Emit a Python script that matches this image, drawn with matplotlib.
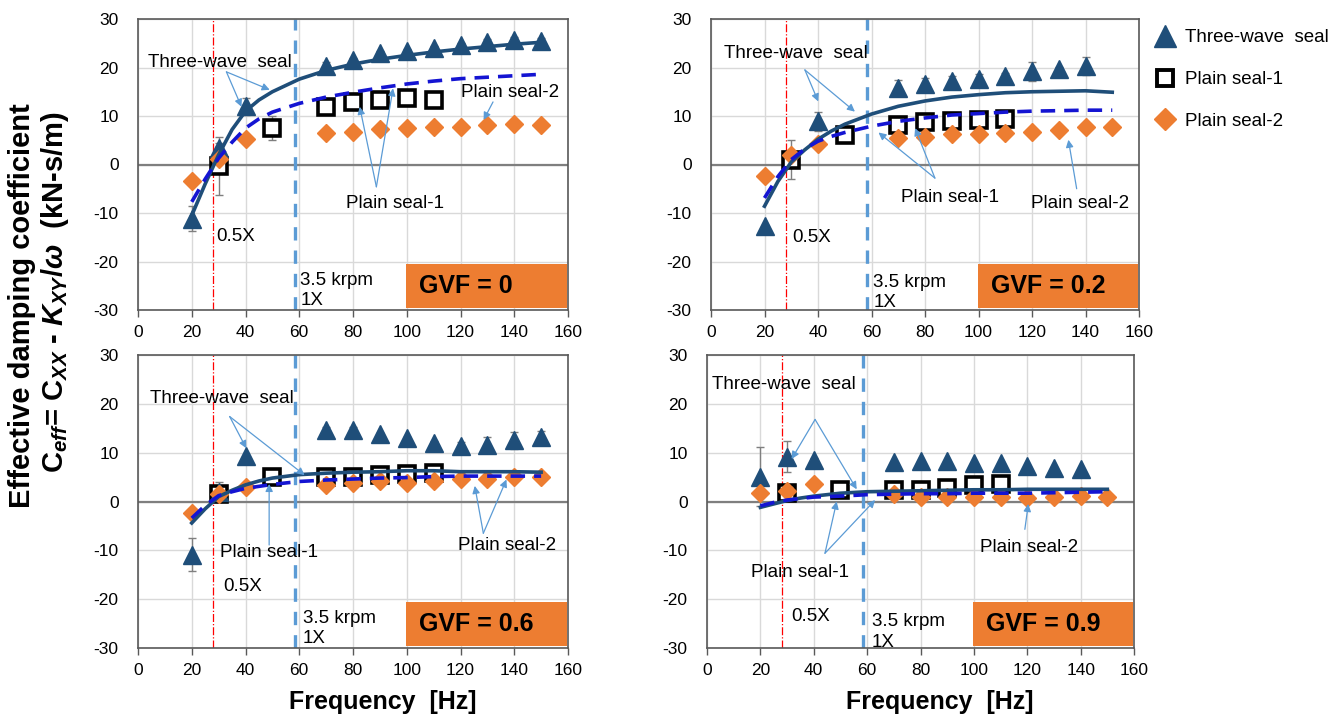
import matplotlib
matplotlib.use("Agg")
import matplotlib.pyplot as plt
from matplotlib.lines import Line2D

plt.rcParams['font.family'] = ['Liberation Sans', 'DejaVu Sans']
plt.rcParams['axes.unicode_minus'] = False
plt.rcParams['mathtext.fontset'] = 'custom'
plt.rcParams['mathtext.rm'] = 'Liberation Sans:bold'
plt.rcParams['mathtext.bf'] = 'Liberation Sans:bold'
plt.rcParams['mathtext.it'] = 'Liberation Sans:italic:bold'
plt.rcParams['mathtext.bfit'] = 'Liberation Sans:italic:bold'

# ---- data ----
gvf_labels = ["GVF = 0", "GVF = 0.2", "GVF = 0.6", "GVF = 0.9"]

# three-wave seal (triangles)
tw_f0 = [20, 30, 40, 70, 80, 90, 100, 110, 120, 130, 140, 150]
tw_0 = [-11.2, 3.4, 12.0, 20.3, 21.5, 22.9, 23.4, 24.0, 24.6, 25.3, 25.7, 25.5]
tw_e0 = [2.6, 1.0, 1.7, 0.8, 0.5, 0.5, 0.5, 0.5, 0.5, 0.5, 0.5, 0.5]
tw_f2 = [20, 40, 70, 80, 90, 100, 110, 120, 130, 140]
tw_2 = [-12.7, 8.9, 15.8, 16.5, 17.3, 17.7, 18.3, 19.2, 19.6, 20.3]
tw_e2 = [0, 2.0, 1.6, 1.3, 1.0, 1.0, 0.6, 2.0, 0.6, 1.8]
tw_f6 = [20, 30, 40, 70, 80, 90, 100, 110, 120, 130, 140, 150]
tw_6 = [-10.9, 2.0, 9.4, 14.7, 14.7, 13.8, 13.0, 11.9, 11.4, 11.6, 12.5, 13.2]
tw_e6 = [3.4, 2.0, 0, 0.5, 0.5, 0.3, 0.3, 0.5, 0.8, 1.7, 1.8, 1.3]
tw_f9 = [20, 30, 40, 70, 80, 90, 100, 110, 120, 130, 140]
tw_9 = [5.1, 9.2, 8.4, 8.0, 8.2, 8.2, 7.8, 7.8, 7.2, 6.8, 6.6]
tw_e9 = [6.0, 3.2, 0.5, 0, 0, 0, 0, 0, 0, 0, 0]

# plain seal-1 (squares)
ps1_f = [30, 50, 70, 80, 90, 100, 110]
ps1_0 = [-0.3, 7.6, 11.9, 12.9, 13.3, 13.7, 13.4]
ps1_e0 = [6.0, 2.5, 1.0, 0.6, 0.6, 0.8, 0.0]
ps1_2 = [1.0, 6.0, 8.2, 8.7, 8.9, 9.1, 9.4]
ps1_e2 = [4.0, 0.5, 1.3, 0.8, 0.8, 1.0, 0.0]
ps1_6 = [1.6, 5.1, 5.0, 5.1, 5.5, 5.7, 5.8]
ps1_e6 = [1.0, 1.0, 1.0, 1.2, 1.0, 1.0, 1.0]
ps1_9 = [1.8, 2.3, 2.3, 2.4, 2.7, 3.3, 3.6]
ps1_e9 = [0.5, 0.3, 0.5, 0.5, 0.8, 1.0, 0.0]

# plain seal-2 (diamonds)
ps2_f = [20, 30, 40, 70, 80, 90, 100, 110, 120, 130, 140, 150]
ps2_0 = [-3.4, 1.2, 5.2, 6.4, 6.8, 7.4, 7.6, 7.7, 7.7, 8.1, 8.3, 8.1]
ps2_2 = [-2.4, 1.9, 4.3, 5.5, 5.6, 6.3, 6.2, 6.5, 6.7, 7.2, 7.8, 7.7]
ps2_6 = [-2.3, 1.6, 2.9, 3.3, 3.8, 4.1, 3.8, 4.1, 4.6, 4.6, 5.1, 5.1]
ps2_9 = [1.7, 2.2, 3.6, 1.6, 1.0, 1.0, 1.0, 0.9, 0.7, 0.9, 1.2, 1.0]

# predictions (solid = three-wave, dashed = plain seal)
fit_f = [20, 25, 30, 35, 40, 45, 50, 60, 70, 80, 90, 100, 110, 120, 130, 140, 150]
tw_fit_0 = [-10.5, -4.0, 2.0, 7.2, 11.0, 13.3, 15.0, 17.6, 19.4, 20.7, 21.7, 22.5, 23.2, 23.8, 24.3, 24.8, 25.2]
ps_fit_0 = [-7.7, -3.0, 1.3, 4.6, 7.5, 9.4, 10.8, 12.6, 13.9, 14.9, 15.8, 16.6, 17.2, 17.7, 18.0, 18.3, 18.6]
tw_fit_2 = [-8.6, -3.5, 0.5, 3.0, 5.2, 6.9, 8.3, 10.4, 12.0, 13.1, 13.9, 14.4, 14.8, 15.0, 15.1, 15.2, 14.9]
ps_fit_2 = [-6.9, -2.5, 1.0, 3.2, 4.8, 5.8, 6.6, 7.9, 8.9, 9.6, 10.2, 10.5, 10.8, 11.0, 11.1, 11.2, 11.2]
tw_fit_6 = [-4.4, -1.5, 1.0, 2.3, 3.4, 4.2, 4.8, 5.5, 5.8, 6.0, 6.1, 6.3, 6.3, 6.1, 6.1, 6.1, 6.0]
ps_fit_6 = [-3.4, -0.8, 1.2, 2.0, 2.7, 3.1, 3.5, 4.1, 4.4, 4.6, 4.8, 4.9, 5.1, 5.2, 5.2, 5.2, 5.2]
tw_fit_9 = [-1.2, -0.5, 0.2, 0.7, 1.1, 1.4, 1.7, 2.0, 2.1, 2.2, 2.3, 2.4, 2.4, 2.5, 2.5, 2.5, 2.5]
ps_fit_9 = [-0.9, -0.2, 0.3, 0.6, 0.9, 1.0, 1.1, 1.4, 1.5, 1.6, 1.6, 1.7, 1.7, 1.7, 1.8, 1.9, 2.0]

half_x = 28      # 0.5X
one_x = 58.3     # 3.5 krpm

# ---- styles ----
C_TW = '#1F4E79'
C_PS2 = '#ED7D31'
C_DASH = '#1414D2'
C_ARROW = '#5B9BD5'
C_GRID = '#D9D9D9'

W, H = 1341, 715
fig = plt.figure(figsize=(W / 100, H / 100), dpi=100)

def px_axes(x0, x1, y0, y1):
    return fig.add_axes([x0 / W, 1 - y1 / H, (x1 - x0) / W, (y1 - y0) / H])

axes = [px_axes(138, 568, 19, 310), px_axes(711, 1139, 19, 310),
        px_axes(138, 568, 355, 648), px_axes(707, 1134, 355, 648)]

series = [
    (tw_f0, tw_0, tw_e0, ps1_0, ps1_e0, ps2_0, tw_fit_0, ps_fit_0),
    (tw_f2, tw_2, tw_e2, ps1_2, ps1_e2, ps2_2, tw_fit_2, ps_fit_2),
    (tw_f6, tw_6, tw_e6, ps1_6, ps1_e6, ps2_6, tw_fit_6, ps_fit_6),
    (tw_f9, tw_9, tw_e9, ps1_9, ps1_e9, ps2_9, tw_fit_9, ps_fit_9),
]

# annotation layout per panel: label -> (text pos, arrow start, [arrow targets])
layout = [
    {"tw": ((3.6, 21.1), (32.9, 19.1), [(38.5, 11.9), (49.0, 15.4)]),
     "p1": ((77.3, -8.0), (88.7, -4.6), [(82.5, 11.9), (94.9, 15.7)]),
     "p2": ((120.3, 14.8), (132.1, 12.9), [(128.6, 9.2)]),
     "half": (29.0, -14.9), "one": (60.4, -22.1)},
    {"tw": ((4.9, 22.8), (35.1, 19.5), [(40.1, 13.0), (53.8, 10.9)]),
     "p1": ((70.9, -6.9), (83.7, -2.8), [(62.6, 6.6), (76.3, 7.5)]),
     "p2": ((119.6, -8.0), (136.7, -5.0), [(133.6, 5.1)]),
     "half": (30.2, -15.0), "one": (60.7, -22.6)},
    {"tw": ((4.4, 21.1), (34.1, 17.4), [(40.3, 10.9), (62.0, 5.4)]),
     "p1": ((30.4, -10.4), (48.8, -8.9), [(48.8, 3.6)]),
     "p2": ((119.1, -9.1), (128.5, -6.5), [(125.3, 3.2), (137.1, 4.5)]),
     "half": (31.6, -17.4), "one": (61.4, -22.2)},
    {"tw": ((1.8, 23.9), (40.5, 16.8), [(31.7, 8.7), (56.1, 2.5)]),
     "p1": ((16.5, -14.6), (44.2, -10.6), [(48.6, 0.0), (63.0, 0.3)]),
     "p2": ((102.3, -9.4), (119.1, -5.7), [(120.4, -0.5)]),
     "half": (31.7, -23.6), "one": (61.7, -22.9)},
]
names = {"tw": "Three-wave  seal", "p1": "Plain seal-1", "p2": "Plain seal-2"}

for ax, gvf, (twf, tw, twe, p1, p1e, p2, twfit, psfit), lay in zip(axes, gvf_labels, series, layout):
    ax.set_xlim(0, 160)
    ax.set_ylim(-30, 30)
    ax.set_xticks(range(0, 161, 20))
    ax.set_yticks(range(-30, 31, 10))
    ax.grid(True, color=C_GRID, lw=1)
    ax.set_axisbelow(True)
    for s in ax.spines.values():
        s.set_color('#595959')
        s.set_linewidth(1.2)
    ax.tick_params(axis='x', length=5, width=1, color='#595959', pad=6, labelsize=12.5)
    ax.tick_params(axis='y', length=0, pad=14, labelsize=12.5)
    ax.axhline(0, color='#7F7F7F', lw=1.6, zorder=1)

    ax.axvline(half_x, color='#FF0000', lw=0.9, ls='-.', zorder=2)
    ax.axvline(one_x, color=C_ARROW, lw=2.4, ls=(0, (4, 3)), zorder=2)

    ax.errorbar(ps1_f, p1, yerr=p1e, fmt='none', ecolor='#7F7F7F', elinewidth=1, capsize=3, zorder=3)
    ax.errorbar(twf, tw, yerr=twe, fmt='none', ecolor='#7F7F7F', elinewidth=1, capsize=3, zorder=3)
    ax.plot(ps1_f, p1, 's', ms=11, mfc='white', mec='black', mew=2.6, zorder=4)
    ax.plot(twf, tw, '^', ms=13, color=C_TW, zorder=5)
    ax.plot(ps2_f, p2, 'D', ms=9, color=C_PS2, zorder=6)
    ax.plot(fit_f, twfit, '-', color=C_TW, lw=2.6, zorder=7)
    ax.plot(fit_f, psfit, color=C_DASH, lw=2.6, ls=(0, (4, 2.5)), zorder=7)

    for key in ("tw", "p1", "p2"):
        tpos, src, targets = lay[key]
        ax.text(tpos[0], tpos[1], names[key], fontsize=13.5, va='center', ha='left', zorder=9)
        for tgt in targets:
            ax.annotate('', xy=tgt, xytext=src, zorder=8,
                        arrowprops=dict(arrowstyle='-|>', color=C_ARROW, lw=0.9,
                                        mutation_scale=11, shrinkA=0, shrinkB=0))
    ax.text(lay["half"][0], lay["half"][1], "0.5X", fontsize=13.5, va='center', ha='left')
    ax.text(lay["one"][0], lay["one"][1], "3.5 krpm\n1X", fontsize=13.5, va='top', ha='left',
            linespacing=1.25)
    ax.add_patch(plt.Rectangle((99.8, -29.5), 60, 9.0, fc=C_PS2, ec='none', zorder=9))
    ax.text(104.5, -25.0, gvf, fontsize=18, fontweight='bold', va='center', ha='left', zorder=10)

axes[2].set_xlabel("Frequency  [Hz]", fontsize=18, fontweight='bold')
axes[3].set_xlabel("Frequency  [Hz]", fontsize=18, fontweight='bold')
axes[2].xaxis.set_label_coords(0.57, -0.145)
axes[3].xaxis.set_label_coords(0.545, -0.145)

fig.text(22 / W, 1 - 306 / H, "Effective damping coefficient", rotation=90, fontsize=21,
         fontweight='bold', ha='center', va='center')
fig.text(55 / W, 1 - 292 / H,
         r"C$_{\mathit{eff}}$= C$_{XX}$ - $\mathit{K}_{XY}$/$\mathit{\omega}$  (kN-s/m)",
         rotation=90, fontsize=21, fontweight='bold', ha='center', va='center')

handles = [Line2D([], [], ls='', marker='^', ms=16, color=C_TW),
           Line2D([], [], ls='', marker='s', ms=11, mfc='white', mec='black', mew=2.8),
           Line2D([], [], ls='', marker='D', ms=11, color=C_PS2)]
fig.legend(handles, ["Three-wave  seal", "Plain seal-1", "Plain seal-2"],
           loc='upper left', bbox_to_anchor=(1141 / W, 1 - 16 / H), frameon=False,
           fontsize=13.5, handlelength=1.2, handletextpad=0.45, labelspacing=1.32,
           borderpad=0.2)

fig.savefig('out.png', dpi=100)
